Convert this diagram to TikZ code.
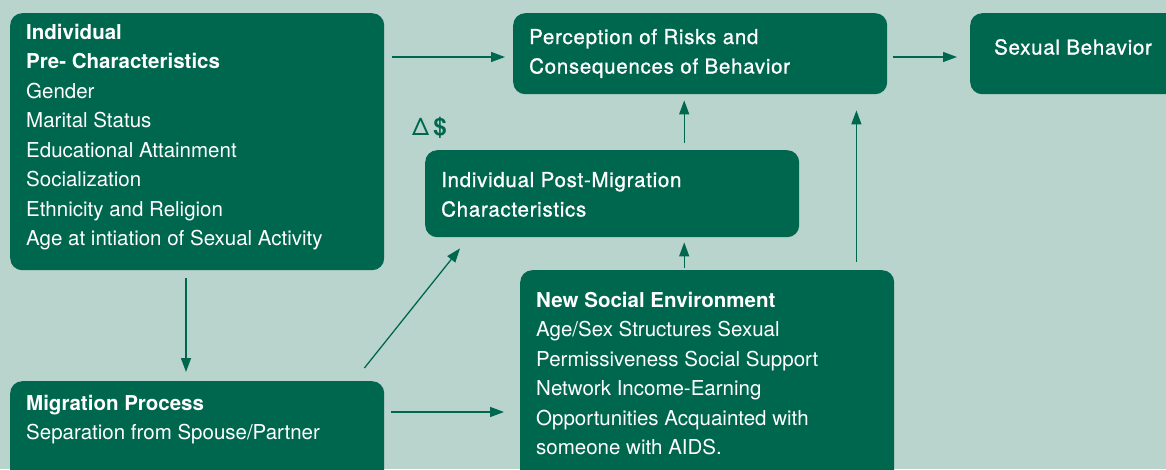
\documentclass[tikz,border=0pt]{standalone}
\usepackage{fontspec}
\setmainfont{TeX Gyre Heros}
\newfontfamily\medfont{TeX Gyre Heros}[FakeBold=1, LetterSpace=3.5]
\usetikzlibrary{arrows.meta}
\definecolor{bg}{HTML}{B9D4CC}
\definecolor{dg}{HTML}{00674F}
\begin{document}
\begin{tikzpicture}[x=1pt,y=-1pt,
  box/.style={fill=dg, draw=none, rounded corners=12pt, inner sep=0pt, anchor=north west},
  txt/.style={text=white, inner sep=0pt, anchor=base west, font=\fontsize{20.5}{24}\selectfont},
  hd/.style={txt, font=\fontsize{20.5}{24}\selectfont\bfseries},
  md/.style={txt, font=\fontsize{20.5}{24}\medfont},
  arr/.style={draw=dg, line width=1.3pt, -{Triangle[length=14pt,width=10pt]}}]
\useasboundingbox (0,0) rectangle (1166,469);
\clip (0,0) rectangle (1166,469);
\fill[bg] (0,0) rectangle (1166,469);
% boxes
\node[box, minimum width=374pt, minimum height=257pt] (a) at (10,13) {};
\node[box, minimum width=374pt, minimum height=81pt] (per) at (513,13) {};
\node[box, minimum width=230pt, minimum height=81pt] (sex) at (970,13) {};
\node[box, minimum width=374pt, minimum height=87pt] (post) at (425,150) {};
\node[box, minimum width=374pt, minimum height=230pt] (nse) at (520,270) {};
\node[box, minimum width=374pt, minimum height=120pt] (mig) at (10,381) {};
% texts
\node[hd] (a1) at (26,39) {Individual};
\node[hd] (a2) at (26,68.5) {Pre- Characteristics};
\node[txt] (a3) at (26,98) {Gender};
\node[txt] (a4) at (26,127.5) {Marital Status};
\node[txt] (a5) at (26,157) {Educational Attainment};
\node[txt] (a6) at (26,186.5) {Socialization};
\node[txt] (a7) at (26,216) {Ethnicity and Religion};
\node[txt] (a8) at (26,245.5) {Age at intiation of Sexual Activity};
\node[md] (p1) at (529,44) {Perception of Risks and};
\node[md] (p2) at (529,73.5) {Consequences of Behavior};
\node[md] (s1) at (994,54.5) {Sexual Behavior};
\node[md] (q1) at (441,187) {Individual Post-Migration};
\node[md] (q2) at (441,216.5) {Characteristics};
\node[hd] (n1) at (536,307) {New Social Environment};
\node[txt] (n2) at (536,336.5) {Age/Sex Structures Sexual};
\node[txt] (n3) at (536,366) {Permissiveness Social Support};
\node[txt] (n4) at (536,395.5) {Network Income-Earning};
\node[txt] (n5) at (536,425) {Opportunities Acquainted with};
\node[txt] (n6) at (536,454.5) {someone with AIDS.};
\node[hd] (m1) at (26,410) {Migration Process};
\node[txt] (m2) at (26,439.5) {Separation from Spouse/Partner};
\node[text=dg, inner sep=0pt, anchor=base west, font=\fontsize{24}{26}\selectfont] (dl) at (412,135.5) {Δ\,\textbf{\$}};
% arrows
\draw[arr, shorten <=8pt, shorten >=8pt] ([shift={(0,44)}]a.north east) -- ([shift={(0,44)}]per.north west);
\draw[arr, shorten <=6pt, shorten >=13pt] ([shift={(0,44)}]per.north east) -- ([shift={(0,44)}]sex.north west);
\draw[arr, shorten <=7pt, shorten >=6pt] ([xshift=72pt]post.north) -- ([xshift=72pt]post.north |- per.south);
\draw[arr, shorten <=2pt, shorten >=5pt] ([xshift=72pt]post.north |- nse.north) -- ([xshift=72pt]post.south);
\draw[arr, shorten <=8pt, shorten >=16pt] ([xshift=-38pt]nse.north east) -- ([xshift=-38pt]nse.north east |- per.south);
\draw[arr, shorten <=8pt, shorten >=9pt] ([xshift=176pt]a.south west) -- ([xshift=176pt]a.south west |- mig.north);
\draw[arr] ([shift={(-20,-13)}]mig.north east) -- ([shift={(35,11)}]post.south west);
\draw[arr, shorten <=7pt, shorten >=16pt] ([shift={(0,31)}]mig.north east) -- ([shift={(0,31)}]mig.north east -| nse.west);
\end{tikzpicture}
\end{document}
